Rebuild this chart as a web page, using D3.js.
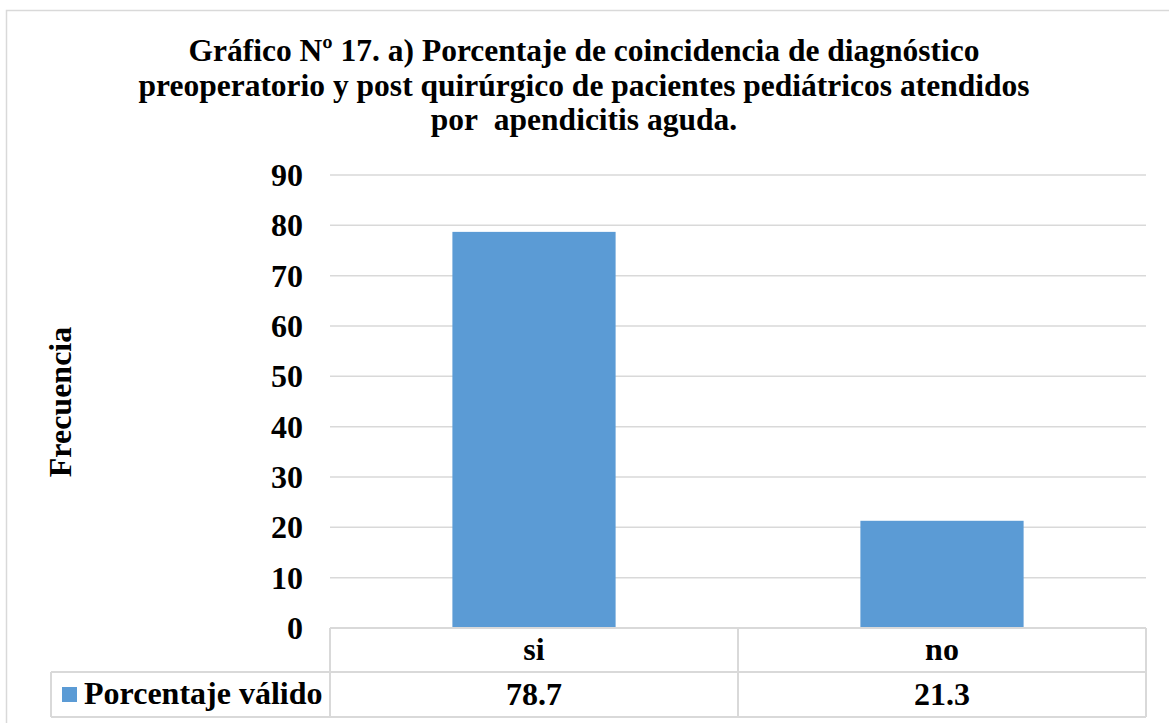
<!DOCTYPE html>
<html>
<head>
<meta charset="utf-8">
<script src="https://cdn.jsdelivr.net/npm/d3@7"></script>
<style>
  body { margin: 0; background: #fff; }
  text { font-family: "Liberation Serif", "Times New Roman", serif; font-weight: bold; fill: #000; }
</style>
</head>
<body>
<script>
let width = 1169;
let height = 723;

let categories = ["si", "no"];
let values = [78.7, 21.3];
let seriesName = "Porcentaje válido";
let yTicks = [0, 10, 20, 30, 40, 50, 60, 70, 80, 90];
let titleLines = [
  "Gráfico Nº 17. a) Porcentaje de coincidencia de diagnóstico",
  "preoperatorio y post quirúrgico de pacientes pediátricos atendidos",
  "por\u00a0 apendicitis aguda."
];
let yTitle = "Frecuencia";

let barColor = "#5b9bd5";
let lineColor = "#d9d9d9";

let svg = d3.select("body").append("svg")
  .attr("width", width)
  .attr("height", height);

// chart area border
svg.append("rect")
  .attr("x", 6.5).attr("y", 10.5)
  .attr("width", 1180).attr("height", 720)
  .attr("fill", "none").attr("stroke", lineColor).attr("stroke-width", 1.5);

let plot = {left: 330, right: 1146, top: 175, bottom: 628};

let x = d3.scaleBand().domain(categories).range([plot.left, plot.right]).paddingInner(0.6).paddingOuter(0.3);
let y = d3.scaleLinear().domain([0, 90]).range([plot.bottom, plot.top]);

// title, one text per line
svg.append("g").selectAll("text").data(titleLines).enter().append("text")
  .attr("x", 584)
  .attr("y", (d, i) => 61 + i * 34.5)
  .attr("text-anchor", "middle")
  .style("font-size", "31.5px")
  .text(d => d);

// gridlines
svg.append("g").selectAll("line").data(yTicks.filter(t => t > 0)).enter().append("line")
  .attr("x1", plot.left).attr("x2", plot.right)
  .attr("y1", d => y(d)).attr("y2", d => y(d))
  .attr("stroke", lineColor).attr("stroke-width", 1.5);

// y tick labels
svg.append("g").selectAll("text").data(yTicks).enter().append("text")
  .attr("x", 303)
  .attr("y", d => y(d))
  .attr("dy", "0.34em")
  .attr("text-anchor", "end")
  .style("font-size", "32px")
  .text(d => d);

// y title
svg.append("text")
  .attr("transform", `translate(71,402) rotate(-90)`)
  .attr("text-anchor", "middle")
  .style("font-size", "32px")
  .text(yTitle);

// bars
svg.append("g").selectAll("rect").data(values).enter().append("rect")
  .attr("x", (d, i) => x(categories[i]))
  .attr("width", x.bandwidth())
  .attr("y", d => y(d))
  .attr("height", d => y(0) - y(d))
  .attr("fill", barColor);

// data table
let rowTop = plot.bottom, rowMid = 672, rowBot = 717, legendLeft = 51;
let step = (plot.right - plot.left) / categories.length;
let table = svg.append("g").attr("stroke", lineColor).attr("stroke-width", 2).attr("fill", "none");
table.append("line").attr("x1", plot.left).attr("x2", plot.right).attr("y1", rowTop).attr("y2", rowTop);
table.append("line").attr("x1", legendLeft).attr("x2", plot.right).attr("y1", rowMid).attr("y2", rowMid);
table.append("line").attr("x1", legendLeft).attr("x2", plot.right).attr("y1", rowBot).attr("y2", rowBot);
table.append("line").attr("x1", legendLeft).attr("x2", legendLeft).attr("y1", rowMid).attr("y2", rowBot);
d3.range(categories.length + 1).forEach(i => {
  table.append("line")
    .attr("x1", plot.left + i * step).attr("x2", plot.left + i * step)
    .attr("y1", rowTop).attr("y2", rowBot);
});

svg.append("g").selectAll("text").data(categories).enter().append("text")
  .attr("x", (d, i) => plot.left + (i + 0.5) * step)
  .attr("y", 660)
  .attr("text-anchor", "middle")
  .style("font-size", "32px")
  .text(d => d);

svg.append("g").selectAll("text").data(values).enter().append("text")
  .attr("x", (d, i) => plot.left + (i + 0.5) * step)
  .attr("y", 705)
  .attr("text-anchor", "middle")
  .style("font-size", "32px")
  .text(d => d3.format(".1f")(d));

// legend key in table
svg.append("rect")
  .attr("x", 62).attr("y", 687).attr("width", 15).attr("height", 15)
  .attr("fill", barColor);
svg.append("text")
  .attr("x", 84)
  .attr("y", 704)
  .style("font-size", "32px")
  .text(seriesName);
</script>
</body>
</html>
